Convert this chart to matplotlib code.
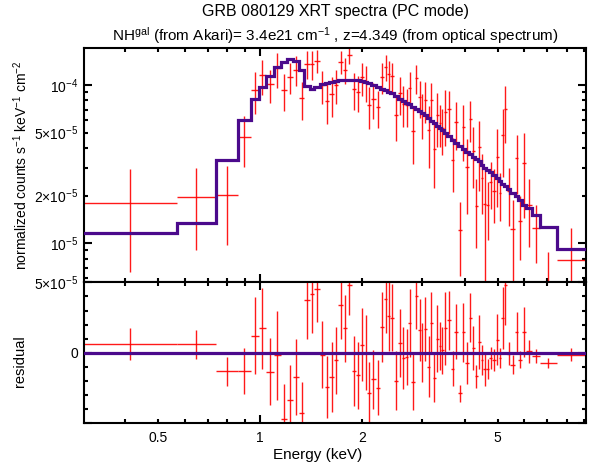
import numpy as np
import matplotlib
matplotlib.use("Agg")
import matplotlib.pyplot as plt

plt.rcParams['font.family'] = ['Liberation Sans', 'DejaVu Sans']
plt.rcParams['mathtext.default'] = 'regular'

# channel bin edges (keV)
edges = [0.30, 0.57, 0.74, 0.86, 0.94, 0.99, 1.04, 1.10, 1.15, 1.20, 1.25, 1.30, 1.35, 1.40, 1.44,
         1.50, 1.55, 1.60, 1.65, 1.70, 1.75, 1.80, 1.86, 1.92, 1.97,
         2.02, 2.07, 2.12, 2.19, 2.26, 2.32, 2.37, 2.42, 2.48, 2.55,
         2.61, 2.67, 2.73, 2.79, 2.85, 2.92, 2.98, 3.03, 3.10, 3.17,
         3.22, 3.29, 3.36, 3.41, 3.47, 3.55, 3.65, 3.73, 3.83, 3.92,
         4.02, 4.12, 4.20, 4.28, 4.37, 4.46, 4.54, 4.64, 4.72, 4.82,
         4.94, 5.04, 5.13, 5.22, 5.32, 5.46, 5.62, 5.76, 5.91, 6.08,
         6.30, 6.67, 7.47, 9.09]

# observed rate (counts s^-1 keV^-1 cm^-2)
rate = [1.80e-5, 1.95e-5, 2.02e-5, 4.70e-5, 9.36e-5, 1.149e-4, 1.011e-4, 1.273e-4, 9.33e-5, 1.126e-4,
        1.249e-4, 8.22e-5, 1.365e-4, 1.357e-4,
        1.428e-4, 9.96e-5, 7.90e-5, 8.74e-5, 1.004e-4, 1.408e-4, 1.248e-4, 1.559e-4, 9.47e-5, 9.08e-5,
        1.118e-4, 1.046e-4, 7.45e-5, 8.16e-5, 7.27e-5, 1.129e-4, 1.307e-4, 1.166e-4, 1.136e-4, 6.50e-5,
        8.84e-5, 7.59e-5, 7.43e-5, 9.64e-5, 5.15e-5, 1.107e-4, 8.42e-5, 6.68e-5, 8.09e-5, 5.17e-5,
        8.04e-5, 3.93e-5, 6.47e-5, 5.78e-5, 5.33e-5, 6.74e-5, 7.03e-5, 3.37e-5, 5.83e-5, 1.22e-5,
        5.41e-5, 3.04e-5, 6.14e-5, 3.85e-5, 1.73e-5, 4.04e-5, 2.58e-5, 1.78e-5, 1.75e-5, 2.45e-5,
        2.14e-5, 3.49e-5, 2.08e-5, 4.83e-5, 7.10e-5, 2.13e-5, 1.23e-5, 3.44e-5, 1.38e-5, 3.21e-5,
        1.75e-5, 1.25e-5, 5.3e-6, 7.8e-6]

# 1 sigma errors
err = [1.14e-5, 1.04e-5, 1.04e-5, 1.65e-5, 2.76e-5, 2.90e-5, 2.40e-5, 3.20e-5, 2.43e-5, 2.50e-5,
       2.70e-5, 2.20e-5, 2.78e-5, 2.80e-5,
       2.30e-5, 2.36e-5, 2.20e-5, 2.50e-5, 2.40e-5, 2.40e-5, 2.40e-5, 2.10e-5, 2.50e-5, 2.36e-5,
       2.60e-5, 2.65e-5, 2.20e-5, 2.10e-5, 1.95e-5, 2.50e-5, 2.40e-5, 2.50e-5, 2.40e-5, 2.10e-5,
       2.40e-5, 2.20e-5, 2.00e-5, 2.40e-5, 2.00e-5, 2.30e-5, 2.20e-5, 2.10e-5, 2.30e-5, 2.20e-5,
       2.20e-5, 1.70e-5, 2.40e-5, 1.70e-5, 1.70e-5, 2.60e-5, 2.10e-5, 1.25e-5, 1.95e-5, 6.0e-6,
       2.10e-5, 1.50e-5, 1.77e-5, 1.60e-5, 8.0e-6, 1.90e-5, 1.06e-5, 1.20e-5, 7.0e-6, 8.0e-6,
       8.0e-6, 1.80e-5, 7.0e-6, 2.20e-5, 2.80e-5, 8.5e-6, 6.5e-6, 1.40e-5, 6.0e-6, 1.77e-5,
       8.0e-6, 5.0e-6, 3.5e-6, 4.7e-6]

# folded model
model = [1.157e-5, 1.347e-5, 3.345e-5, 5.99e-5, 8.16e-5, 9.75e-5, 1.148e-4, 1.293e-4, 1.403e-4, 1.466e-4,
         1.423e-4, 1.252e-4, 9.90e-5, 9.37e-5,
         9.78e-5, 1.010e-4, 1.033e-4, 1.048e-4, 1.058e-4, 1.068e-4, 1.074e-4, 1.079e-4, 1.079e-4, 1.071e-4,
         1.061e-4, 1.046e-4, 1.030e-4, 1.006e-4, 9.77e-5, 9.49e-5, 9.27e-5, 9.06e-5, 8.86e-5, 8.50e-5,
         8.16e-5, 7.97e-5, 7.73e-5, 7.54e-5, 7.25e-5, 7.07e-5, 6.82e-5, 6.68e-5, 6.42e-5, 6.17e-5,
         5.94e-5, 5.73e-5, 5.47e-5, 5.33e-5, 5.17e-5, 5.00e-5, 4.73e-5, 4.52e-5, 4.33e-5, 4.12e-5,
         3.95e-5, 3.77e-5, 3.64e-5, 3.52e-5, 3.43e-5, 3.29e-5, 3.12e-5, 2.98e-5, 2.90e-5, 2.83e-5,
         2.68e-5, 2.57e-5, 2.46e-5, 2.38e-5, 2.30e-5, 2.20e-5, 2.08e-5, 1.98e-5, 1.88e-5, 1.75e-5,
         1.66e-5, 1.51e-5, 1.26e-5, 9.20e-6]

xmajor = [1]
xminor = [0.4, 0.5, 0.6, 0.7, 0.8, 0.9, 2, 3, 4, 5, 6, 7, 8, 9]
xminor_labels = ['', '0.5', '', '', '', '', '2', '', '', '5', '', '', '', '']
ymajor = [1e-5, 1e-4]
ymajor_labels = ['$10^{-5}$', '$10^{-4}$']
yminor = [6e-6, 7e-6, 8e-6, 9e-6, 2e-5, 3e-5, 4e-5, 5e-5, 6e-5, 7e-5, 8e-5, 9e-5]
yminor_labels = ['', '', '', '', '$2{\\times}10^{-5}$', '', '', '$5{\\times}10^{-5}$', '', '', '', '']
rmajor = [-5e-5, 0, 5e-5]
rmajor_labels = ['', '0', '$5{\\times}10^{-5}$']
rminor = [-4e-5, -3e-5, -2e-5, -1e-5, 1e-5, 2e-5, 3e-5, 4e-5]

purple = '#4b0a8c'
red = '#ff0000'

e = np.array(edges)
lo, hi = e[:-1], e[1:]
mid = np.sqrt(lo * hi)
rate = np.array(rate)
model = np.array(model)
err = np.array(err)
resid = rate - model

fig = plt.figure(figsize=(5.94, 4.70), dpi=100)
ax1 = fig.add_axes([0.1414, 0.399, 0.8446, 0.4982])
ax2 = fig.add_axes([0.1414, 0.1006, 0.8446, 0.2984])

ax1.errorbar(mid, rate, xerr=[mid - lo, hi - mid], yerr=err, fmt='none',
             ecolor=red, elinewidth=1.0, capsize=0, alpha=0.9, zorder=2)
ax1.stairs(model, e, baseline=None, color=purple, lw=2.3, zorder=3)

ax2.errorbar(mid, resid, xerr=[mid - lo, hi - mid], yerr=err, fmt='none',
             ecolor=red, elinewidth=1.0, capsize=0, alpha=0.9, zorder=2)
ax2.stairs(model - model, e, baseline=None, color=purple, lw=2.3, zorder=3)

for ax in (ax1, ax2):
    ax.set_xscale('log')
    ax.set_xlim(0.303, 9.09)
    ax.set_xticks(xmajor)
    ax.set_xticks(xminor, minor=True)
    ax.tick_params(which='both', direction='in', top=True, right=True, width=1.5, labelsize=10)
    ax.tick_params(which='major', length=5.5)
    ax.tick_params(which='minor', length=3)
    ax.tick_params(axis='x', which='both', pad=6)
    ax.tick_params(axis='y', which='both', pad=4)
    for s in ax.spines.values():
        s.set_linewidth(1.5)

ax1.set_yscale('log')
ax1.set_ylim(5.65e-6, 1.706e-4)
ax1.set_yticks(ymajor)
ax1.set_yticklabels(ymajor_labels)
ax1.set_yticks(yminor, minor=True)
ax1.set_yticklabels(yminor_labels, minor=True)
ax1.tick_params(axis='x', which='both', labelbottom=False)

ax2.set_ylim(-4.93e-5, 5.0e-5)
ax2.set_yticks(rmajor)
ax2.set_yticklabels(rmajor_labels)
ax2.set_yticks(rminor, minor=True)
ax2.set_xticklabels(['1'])
ax2.set_xticklabels(xminor_labels, minor=True)

fig.text(0.564, 0.975, 'GRB 080129 XRT spectra (PC mode)', ha='center', va='center', fontsize=11.5)
fig.text(0.564, 0.924, 'NH$^{gal}$ (from Akari)= 3.4e21 cm$^{-1}$ , z=4.349 (from optical spectrum)',
         ha='center', va='center', fontsize=11)
fig.text(0.035, 0.649, 'normalized counts s$^{-1}$ keV$^{-1}$ cm$^{-2}$', rotation=90,
         ha='center', va='center', fontsize=10)
fig.text(0.034, 0.232, 'residual', rotation=90, ha='center', va='center', fontsize=10.5)
fig.text(0.5345, 0.032, 'Energy (keV)', ha='center', va='center', fontsize=11)

fig.savefig('out.png', dpi=100)
